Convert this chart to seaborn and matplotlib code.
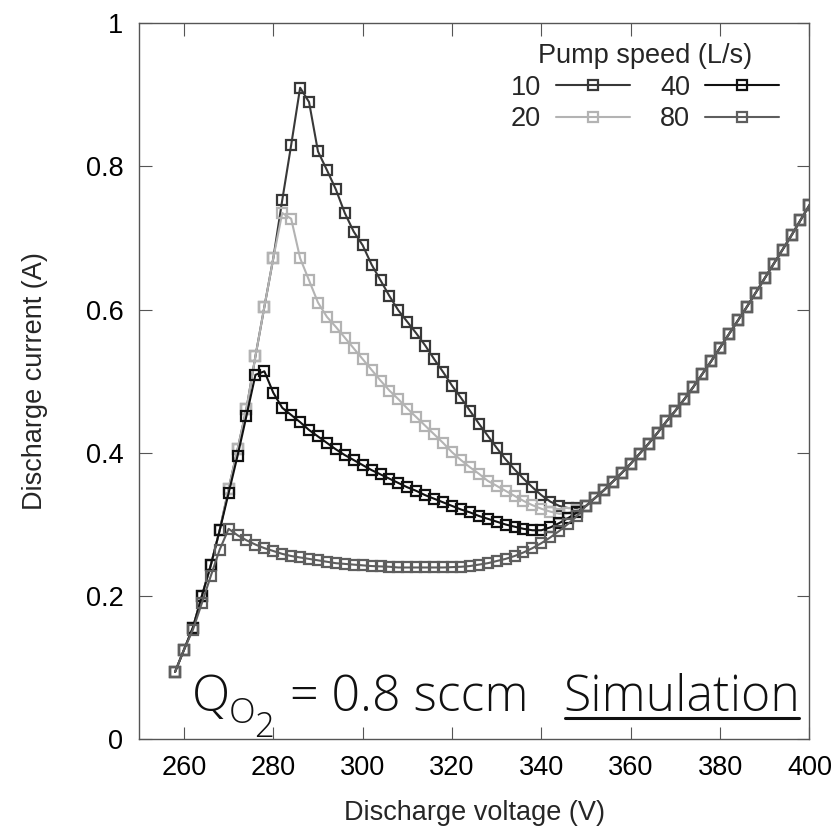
import matplotlib
matplotlib.use("Agg")
import matplotlib.pyplot as plt
from matplotlib import font_manager
from matplotlib.font_manager import FontProperties
from matplotlib.lines import Line2D
from matplotlib.ticker import FuncFormatter
import pandas as pd
import seaborn as sns

# ---------------- data ----------------
voltage = [258, 260, 262, 264, 266, 268, 270, 272, 274, 276, 278, 280, 282, 284,
           286, 288, 290, 292, 294, 296, 298, 300, 302, 304, 306, 308, 310, 312,
           314, 316, 318, 320, 322, 324, 326, 328, 330, 332, 334, 336, 338, 340,
           342, 344, 346, 348, 350, 352, 354, 356, 358, 360, 362, 364, 366, 368,
           370, 372, 374, 376, 378, 380, 382, 384, 386, 388, 390, 392, 394, 396,
           398, 400]

# currents from 258 V to 348 V for each pump speed
i_10 = [0.094, 0.125, 0.156, 0.200, 0.243, 0.292, 0.350, 0.405, 0.462, 0.535,
        0.604, 0.672, 0.753, 0.830, 0.910, 0.890, 0.821, 0.795, 0.768, 0.735,
        0.709, 0.690, 0.663, 0.641, 0.619, 0.599, 0.583, 0.567, 0.550, 0.531,
        0.513, 0.494, 0.477, 0.459, 0.441, 0.424, 0.407, 0.391, 0.377, 0.364,
        0.352, 0.341, 0.332, 0.326, 0.323, 0.323]
i_20 = [0.094, 0.125, 0.156, 0.200, 0.243, 0.292, 0.350, 0.405, 0.462, 0.535,
        0.604, 0.672, 0.735, 0.727, 0.672, 0.641, 0.610, 0.590, 0.576, 0.561,
        0.546, 0.531, 0.516, 0.501, 0.487, 0.475, 0.462, 0.450, 0.438, 0.426,
        0.414, 0.401, 0.390, 0.380, 0.371, 0.361, 0.354, 0.347, 0.340, 0.333,
        0.327, 0.322, 0.318, 0.315, 0.316, 0.320]
i_40 = [0.094, 0.125, 0.156, 0.200, 0.243, 0.292, 0.344, 0.396, 0.452, 0.509,
        0.514, 0.484, 0.463, 0.453, 0.443, 0.432, 0.423, 0.414, 0.405, 0.397,
        0.390, 0.383, 0.376, 0.370, 0.364, 0.358, 0.352, 0.347, 0.341, 0.336,
        0.331, 0.326, 0.321, 0.317, 0.312, 0.308, 0.304, 0.300, 0.297, 0.294,
        0.292, 0.292, 0.296, 0.302, 0.309, 0.317]
i_80 = [0.094, 0.125, 0.153, 0.190, 0.228, 0.265, 0.294, 0.285, 0.278, 0.272,
        0.267, 0.263, 0.259, 0.256, 0.254, 0.252, 0.250, 0.248, 0.246, 0.245,
        0.244, 0.243, 0.242, 0.2415, 0.241, 0.240, 0.240, 0.240, 0.240, 0.240,
        0.240, 0.2405, 0.241, 0.242, 0.244, 0.246, 0.249, 0.252, 0.256, 0.261,
        0.267, 0.274, 0.282, 0.291, 0.301, 0.312]
# common branch from 350 V to 400 V (all pump speeds coincide)
tail_common = [0.326, 0.337, 0.348, 0.360, 0.372, 0.385, 0.399, 0.413, 0.428,
               0.444, 0.459, 0.475, 0.492, 0.510, 0.528, 0.547, 0.566, 0.585,
               0.604, 0.624, 0.644, 0.664, 0.684, 0.704, 0.725, 0.746]

speeds = ["10", "20", "40", "80"]
colors = ["#383838", "#b3b3b3", "#111111", "#5e5e5e"]
xticks = [260, 280, 300, 320, 340, 360, 380, 400]
yticks = [0, 0.2, 0.4, 0.6, 0.8, 1]

series = {"10": i_10 + tail_common, "20": i_20 + tail_common,
          "40": i_40 + tail_common, "80": i_80 + tail_common}

df = pd.DataFrame({
    "voltage": voltage * len(speeds),
    "current": sum((series[s] for s in speeds), []),
    "speed": sum(([s] * len(voltage) for s in speeds), []),
})

# ---------------- style ----------------
sns.set_theme(style="ticks")
plt.rcParams.update({
    "font.family": ["Liberation Sans", "DejaVu Sans"],
    "axes.edgecolor": "#555555",
    "axes.linewidth": 1.0,
    "xtick.direction": "in", "ytick.direction": "in",
    "xtick.top": True, "ytick.right": True,
    "xtick.major.size": 9, "ytick.major.size": 9,
    "xtick.major.width": 0.8, "ytick.major.width": 0.8,
    "xtick.color": "#555555", "ytick.color": "#555555",
    "xtick.labelcolor": "black", "ytick.labelcolor": "black",
    "xtick.major.pad": 11, "ytick.major.pad": 11.5,
    "axes.facecolor": "white", "figure.facecolor": "white",
})

fig = plt.figure(figsize=(8.38, 8.34), dpi=100)
ax = fig.add_axes([0.1662, 0.1135, 0.7997, 0.8586])

MS, MEW, LW = 7.2, 1.6, 1.5
palette = dict(zip(speeds, colors))
sns.lineplot(data=df, x="voltage", y="current", hue="speed", hue_order=speeds,
             palette=palette, marker="s", markersize=MS, markeredgewidth=MEW,
             markerfacecolor="none", linewidth=LW, estimator=None, sort=True,
             legend=False, ax=ax)
for line, c in zip(ax.lines, colors):
    line.set_color(c)
    line.set_markeredgecolor(c)
    line.set_markerfacecolor("none")

ax.set_xlim(250, 400)
ax.set_ylim(0, 1)
ax.set_xticks(xticks)
ax.set_yticks(yticks)
fmt = FuncFormatter(lambda v, p: f"{v:g}")
ax.xaxis.set_major_formatter(fmt)
ax.yaxis.set_major_formatter(fmt)
ax.tick_params(labelsize=19.5)
ax.set_xlabel("Discharge voltage (V)", fontsize=19.5, labelpad=14)
ax.set_ylabel("Discharge current (A)", fontsize=19.5, labelpad=27)

handles = [Line2D([], [], color=c, marker="s", markersize=MS, markeredgewidth=MEW,
                  markerfacecolor="none", markeredgecolor=c, linewidth=LW)
           for c in colors]
ax.legend(handles, speeds, title="Pump speed (L/s)", ncol=2, markerfirst=False,
          frameon=False, loc="upper right", bbox_to_anchor=(0.955, 0.972),
          handlelength=2.75, handletextpad=0.55, columnspacing=1.1,
          labelspacing=0.2, borderaxespad=0, borderpad=0,
          fontsize=19.5, title_fontsize=19.5)

# ---------------- annotation ----------------
def _weight(w):
    try:
        return int(w)
    except Exception:
        return {"light": 300, "extra light": 200, "ultralight": 200,
                "thin": 100}.get(str(w).lower(), 400)

def pick_light():
    prefs = ["Segoe UI", "Open Sans", "Lato", "Noto Sans", "Roboto", "Inter"]
    for name in prefs:
        for f in font_manager.fontManager.ttflist:
            if (f.name == name and _weight(f.weight) <= 300
                    and f.style == "normal" and str(f.stretch) == "normal"
                    and "ondensed" not in f.fname and "arrow" not in f.fname):
                return f.fname
    return None

light_path = pick_light()

def fp(size):
    if light_path:
        return FontProperties(fname=light_path, size=size)
    return FontProperties(family="Open Sans", weight="light", size=size)

ink = "#111111"
FS_MAIN, FS_SUB = 36, 25
q_x, q_y = 0.078, 0.0395
t_q = ax.text(q_x, q_y, "Q", transform=ax.transAxes, fontproperties=fp(FS_MAIN),
              va="baseline", ha="left", color=ink)
t_o = ax.annotate("O", xy=(1, 0), xycoords=t_q, xytext=(-1, 0),
                  textcoords="offset points", fontproperties=fp(FS_SUB),
                  va="baseline", ha="left", color=ink)
t_2 = ax.annotate("2", xy=(1, 0), xycoords=t_o, xytext=(-0.5, -4.3),
                  textcoords="offset points", fontproperties=fp(FS_SUB),
                  va="baseline", ha="left", color=ink)
t_eq = ax.annotate(" = 0.8 sccm", xy=(1, 0), xycoords=(t_2, t_q), xytext=(2.5, 0),
                   textcoords="offset points", fontproperties=fp(FS_MAIN),
                   va="bottom", ha="left", color=ink)
t_sim = ax.annotate("Simulation", xy=(1, 0), xycoords=(t_eq, t_q), xytext=(25, 0),
                    textcoords="offset points", fontproperties=fp(FS_MAIN),
                    va="bottom", ha="left", color=ink)

fig.canvas.draw()
renderer = fig.canvas.get_renderer()
bb = t_sim.get_window_extent(renderer)
base_y = ax.transAxes.transform((q_x, q_y))[1]
inv = fig.transFigure.inverted()
(x0f, yf) = inv.transform((bb.x0 + 1, base_y - 7))
(x1f, _) = inv.transform((bb.x1 - 1, base_y - 7))
fig.add_artist(Line2D([x0f, x1f], [yf, yf], transform=fig.transFigure,
                      color=ink, linewidth=2.2))

fig.savefig("out.png", dpi=100)
